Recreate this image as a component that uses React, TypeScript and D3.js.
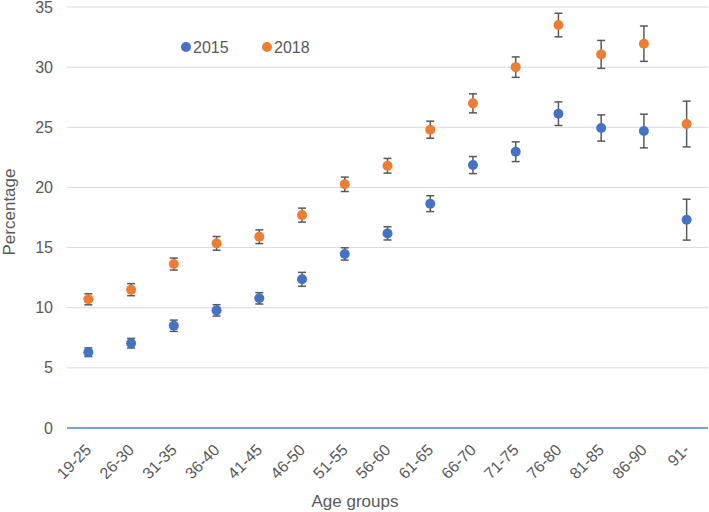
import React, { useEffect, useRef } from 'react';
import * as d3 from 'd3';

const ageGroups = ['19-25', '26-30', '31-35', '36-40', '41-45', '46-50', '51-55', '56-60', '61-65', '66-70', '71-75', '76-80', '81-85', '86-90', '91-'];
const values2015 = [6.3, 7.05, 8.5, 9.78, 10.78, 12.36, 14.47, 16.18, 18.65, 21.86, 22.97, 26.13, 24.94, 24.69, 17.32];
const errors2015 = [0.36, 0.4, 0.47, 0.47, 0.47, 0.58, 0.51, 0.55, 0.66, 0.71, 0.82, 0.98, 1.09, 1.4, 1.7];
const values2018 = [10.7, 11.5, 13.63, 15.35, 15.9, 17.7, 20.26, 21.8, 24.8, 26.99, 30.0, 33.5, 31.06, 31.95, 25.27];
const errors2018 = [0.46, 0.5, 0.5, 0.57, 0.57, 0.58, 0.6, 0.61, 0.71, 0.79, 0.85, 0.98, 1.16, 1.47, 1.9];
const yTicks = [0, 5, 10, 15, 20, 25, 30, 35];

const App: React.FC = () => {
  const chartRef = useRef<SVGSVGElement | null>(null);

  useEffect(() => {
    const width = 709;
    const height = 512;
    const margin = { top: 7, right: 1, bottom: 84, left: 67 };
    const font = 'Liberation Sans, Arial, sans-serif';

    d3.select(chartRef.current).selectAll('*').remove();

    const svg = d3.select(chartRef.current)
      .attr('width', width)
      .attr('height', height)
      .style('font-family', font);

    svg.append('rect').attr('width', width).attr('height', height).attr('fill', '#fff');

    const x = d3.scaleBand()
      .domain(ageGroups)
      .range([margin.left, width - margin.right]);

    const y = d3.scaleLinear()
      .domain([0, 35])
      .range([height - margin.bottom, margin.top]);

    // gridlines
    svg.append('g')
      .selectAll('line')
      .data(yTicks.filter(t => t > 0))
      .enter().append('line')
      .attr('x1', margin.left)
      .attr('x2', width - margin.right)
      .attr('y1', d => y(d))
      .attr('y2', d => y(d))
      .attr('stroke', '#d9d9d9')
      .attr('stroke-width', 1);

    // zero line
    svg.append('line')
      .attr('x1', margin.left)
      .attr('x2', width - margin.right)
      .attr('y1', y(0))
      .attr('y2', y(0))
      .attr('stroke', '#4f81d6')
      .attr('stroke-width', 1.3);

    // y tick labels
    svg.append('g')
      .selectAll('text')
      .data(yTicks)
      .enter().append('text')
      .attr('x', 53)
      .attr('y', d => y(d))
      .attr('dy', '0.35em')
      .attr('text-anchor', 'end')
      .attr('font-size', 16)
      .attr('fill', '#595959')
      .text(d => d);

    // x tick labels
    svg.append('g')
      .selectAll('text')
      .data(ageGroups)
      .enter().append('text')
      .attr('transform', d => `translate(${x(d)! + x.bandwidth() / 2 + 4},${y(0) + 23}) rotate(-45)`)
      .attr('text-anchor', 'end')
      .attr('font-size', 16)
      .attr('fill', '#595959')
      .text(d => d);

    // axis titles
    svg.append('text')
      .attr('transform', 'translate(15,212) rotate(-90)')
      .attr('text-anchor', 'middle')
      .attr('font-size', 17)
      .attr('fill', '#595959')
      .text('Percentage');

    svg.append('text')
      .attr('x', 355)
      .attr('y', 507)
      .attr('text-anchor', 'middle')
      .attr('font-size', 17)
      .attr('fill', '#595959')
      .text('Age groups');

    const series = [
      { name: '2015', values: values2015, errors: errors2015, color: '#4472c4' },
      { name: '2018', values: values2018, errors: errors2018, color: '#ed7d31' },
    ];

    series.forEach(s => {
      const g = svg.append('g');
      const rows = ageGroups.map((a, i) => ({ a, v: s.values[i], e: s.errors[i] }));
      const cx = (d: { a: string }) => x(d.a)! + x.bandwidth() / 2;

      g.selectAll('line.bar')
        .data(rows)
        .enter().append('line')
        .attr('class', 'bar')
        .attr('x1', cx).attr('x2', cx)
        .attr('y1', d => y(d.v - d.e))
        .attr('y2', d => y(d.v + d.e))
        .attr('stroke', '#595959')
        .attr('stroke-width', 1.5);

      [-1, 1].forEach(sign => {
        g.selectAll(`line.cap${sign}`)
          .data(rows)
          .enter().append('line')
          .attr('class', `cap${sign}`)
          .attr('x1', d => cx(d) - 4).attr('x2', d => cx(d) + 4)
          .attr('y1', d => y(d.v + sign * d.e))
          .attr('y2', d => y(d.v + sign * d.e))
          .attr('stroke', '#595959')
          .attr('stroke-width', 1.5);
      });

      g.selectAll('circle')
        .data(rows)
        .enter().append('circle')
        .attr('cx', cx)
        .attr('cy', d => y(d.v))
        .attr('r', 5)
        .attr('fill', s.color);
    });

    // legend
    const legend = svg.append('g');
    series.forEach((s, i) => {
      const lx = 186 + i * 81;
      legend.append('circle')
        .attr('cx', lx)
        .attr('cy', 47)
        .attr('r', 5)
        .attr('fill', s.color);
      legend.append('text')
        .attr('x', lx + 7)
        .attr('y', 47)
        .attr('dy', '0.35em')
        .attr('font-size', 16)
        .attr('fill', '#595959')
        .text(s.name);
    });
  }, []);

  return <svg ref={chartRef} style={{ position: 'absolute', left: 0, top: 0 }}></svg>;
};

export default App;
